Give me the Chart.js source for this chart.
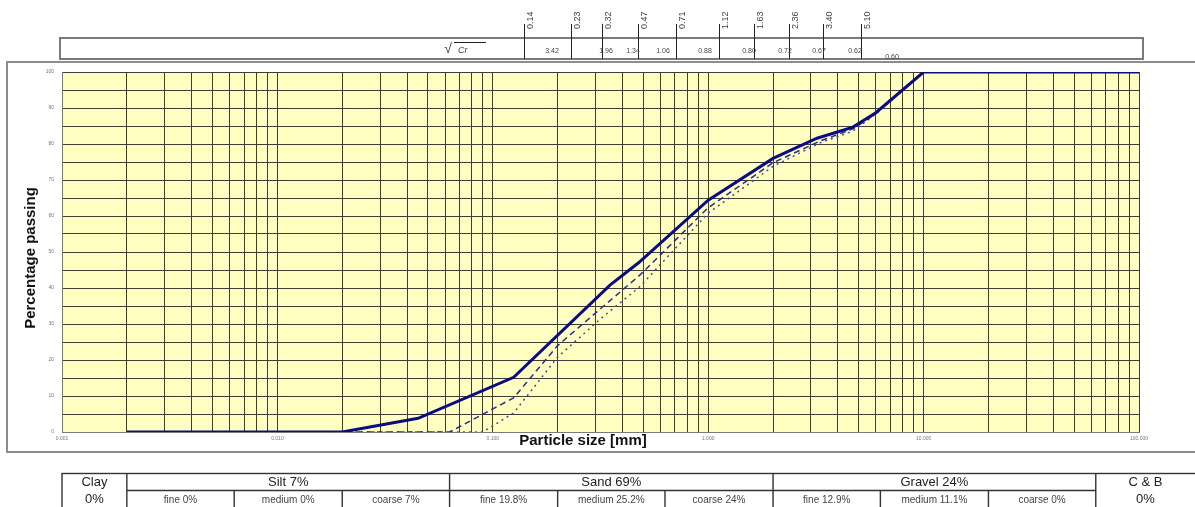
<!DOCTYPE html>
<html>
<head>
<meta charset="utf-8">
<script src="https://cdn.jsdelivr.net/npm/chart.js@4.4.1/dist/chart.umd.min.js"></script>
<style>
html, body { margin: 0; padding: 0; background: #fff; }
#wrap { position: relative; width: 1195px; height: 507px; overflow: hidden; }
</style>
</head>
<body>
<div id="wrap"><canvas id="grading" width="1195" height="507"></canvas></div>
<script>
// grading curves (size in mm, % passing)
var sizesA = [0.002, 0.02, 0.045, 0.125, 0.35, 0.475, 1.0, 2.0, 3.2, 4.7, 6.0, 10, 100];
var passA  = [0, 0, 3.8, 15.2, 40.8, 47, 64.4, 76, 81.6, 84.7, 88.7, 100, 100];

var sizesB = [0.002, 0.063, 0.125, 0.2, 0.32, 0.48, 1.0, 2.0, 3.3, 4.7, 6.0, 10, 100];
var passB  = [0, 0, 9.5, 24, 34.5, 43.5, 62.3, 74.8, 80.8, 84.2, 88.4, 100, 100];

var sizesC = [0.002, 0.09, 0.125, 0.2, 0.32, 0.48, 1.0, 2.0, 3.3, 4.7, 6.0, 10, 100];
var passC  = [0, 0, 5.3, 20.8, 31.7, 40.3, 60.8, 73.8, 80.3, 83.6, 88.3, 100, 100];

// axis labels
var xTickValues = [0.001, 0.01, 0.1, 1, 10, 100];
var xTickLabels = ['0.001', '0.010', '0.100', '1.000', '10.000', '100.000'];
var yTickLabels = ['0', '10', '20', '30', '40', '50', '60', '70', '80', '90', '100'];

// strip above the chart
var topSizes  = [0.14, 0.23, 0.32, 0.47, 0.71, 1.12, 1.63, 2.36, 3.40, 5.10];
var topLabels = ['0.14', '0.23', '0.32', '0.47', '0.71', '1.12', '1.63', '2.36', '3.40', '5.10'];
var crValues  = ['3.42', '1.96', '1.34', '1.06', '0.88', '0.80', '0.72', '0.67', '0.62', '0.60'];

// classification table below
var fractionBounds = [0.002, 0.0063, 0.02, 0.063, 0.2, 0.63, 2, 6.3, 20, 63];
var groupLabels = ['Silt 7%', 'Sand 69%', 'Gravel 24%'];
var subLabels = ['fine 0%', 'medium 0%', 'coarse 7%', 'fine 19.8%', 'medium 25.2%', 'coarse 24%', 'fine 12.9%', 'medium 11.1%', 'coarse 0%'];
var clayLabel = ['Clay', '0%'];
var cobbleLabel = ['C & B', '0%'];

var FONT = "'Liberation Sans', Arial, sans-serif";
Chart.defaults.font.family = FONT;

// grid lines at 1..9 of every decade
var gridValues = [];
for (var e = -3; e < 2; e++) {
	for (var m = 1; m < 10; m++) {
		gridValues.push(+(m * Math.pow(10, e)).toPrecision(3));
	}
}
gridValues.push(100);

function pairs(xs, ys) {
	return xs.map(function (v, i) { return {x: v, y: ys[i]}; });
}

// x positions of the Cr values inside the strip
var crX = [552, 606, 633, 663, 705, 749, 785, 819, 855, 892];

var sheetDecor = {
	id: 'sheetDecor',
	beforeDraw: function (chart) {
		var ctx = chart.ctx, a = chart.chartArea;
		ctx.save();
		ctx.fillStyle = '#ffffff';
		ctx.fillRect(0, 0, chart.width, chart.height);
		ctx.fillStyle = '#ffffc2';
		ctx.fillRect(a.left, a.top, a.right - a.left, a.bottom - a.top);
		ctx.restore();
	},
	afterDraw: function (chart) {
		var ctx = chart.ctx, a = chart.chartArea, xs = chart.scales.x;
		ctx.save();

		// outer frame of the graph
		ctx.strokeStyle = '#8c8c8c';
		ctx.lineWidth = 2;
		ctx.strokeRect(7, 62, 1200, 390);

		// strip with Cr values
		ctx.strokeStyle = '#7a7a7a';
		ctx.strokeRect(60, 38, 1083, 21);

		ctx.fillStyle = '#444';
		ctx.strokeStyle = '#222';
		ctx.lineWidth = 1;
		topSizes.forEach(function (s, i) {
			var px = Math.round(xs.getPixelForValue(s)) + 0.5;
			ctx.beginPath();
			ctx.moveTo(px, 24);
			ctx.lineTo(px, 59);
			ctx.stroke();
			ctx.save();
			ctx.translate(px + 6, 29);
			ctx.rotate(-Math.PI / 2);
			ctx.font = '9px ' + FONT;
			ctx.textAlign = 'left';
			ctx.textBaseline = 'middle';
			ctx.fillText(topLabels[i], 0, 0);
			ctx.restore();
		});

		ctx.font = '7px ' + FONT;
		ctx.textAlign = 'center';
		ctx.textBaseline = 'middle';
		crValues.forEach(function (v, i) {
			ctx.fillText(v, crX[i], i == crValues.length - 1 ? 57 : 51);
		});

		// sqrt(Cr) sign
		ctx.font = '14px ' + FONT;
		ctx.fillText('\u221A', 448, 49);
		ctx.font = 'italic 9px ' + FONT;
		ctx.textAlign = 'left';
		ctx.fillText('Cr', 458, 50);
		ctx.beginPath();
		ctx.moveTo(454, 42.5);
		ctx.lineTo(486, 42.5);
		ctx.stroke();

		// axis titles
		ctx.fillStyle = '#111';
		ctx.font = 'bold 15px ' + FONT;
		ctx.textAlign = 'center';
		ctx.fillText('Particle size [mm]', 583, 441);
		ctx.save();
		ctx.translate(31, 258);
		ctx.rotate(-Math.PI / 2);
		ctx.fillText('Percentage passing', 0, 0);
		ctx.restore();

		// classification table
		var bx = fractionBounds.map(function (b) { return xs.getPixelForValue(b); });
		var left = a.left, right = chart.width + 2, top = 473.5, mid = 490.5, bot = chart.height + 2;
		ctx.strokeStyle = '#333';
		ctx.lineWidth = 1.4;
		ctx.strokeRect(left, top, right - left, bot - top);
		ctx.beginPath();
		ctx.moveTo(bx[0], mid);
		ctx.lineTo(bx[9], mid);
		bx.forEach(function (b, i) {
			ctx.moveTo(b, i % 3 == 0 ? top : mid);
			ctx.lineTo(b, bot);
		});
		ctx.stroke();

		ctx.fillStyle = '#222';
		ctx.font = '13px ' + FONT;
		ctx.fillText(clayLabel[0], (left + bx[0]) / 2, 482);
		ctx.fillText(clayLabel[1], (left + bx[0]) / 2, 499);
		ctx.fillText(cobbleLabel[0], (bx[9] + 1195) / 2, 482);
		ctx.fillText(cobbleLabel[1], (bx[9] + 1195) / 2, 499);
		groupLabels.forEach(function (g, i) {
			ctx.fillText(g, (bx[i * 3] + bx[i * 3 + 3]) / 2, 482);
		});
		ctx.fillStyle = '#444';
		ctx.font = '10px ' + FONT;
		subLabels.forEach(function (s, i) {
			ctx.fillText(s, (bx[i] + bx[i + 1]) / 2, 500);
		});

		ctx.restore();
	}
};

var ctx = document.getElementById('grading').getContext('2d');
new Chart(ctx, {
	type: 'line',
	data: {
		datasets: [
			{data: pairs(sizesA, passA), borderColor: '#0b0b82', borderWidth: 3},
			{data: pairs(sizesB, passB), borderColor: '#2a2a92', borderWidth: 1.5, borderDash: [6, 4]},
			{data: pairs(sizesC, passC), borderColor: '#4646a6', borderWidth: 1.5, borderDash: [2, 4]}
		]
	},
	options: {
		responsive: false,
		animation: false,
		devicePixelRatio: 1,
		layout: {padding: {left: 0, top: 72, right: 56, bottom: 0}},
		elements: {point: {radius: 0}, line: {tension: 0, fill: false}},
		plugins: {legend: {display: false}, tooltip: {enabled: false}},
		scales: {
			x: {
				type: 'logarithmic',
				min: 0.001,
				max: 100,
				afterFit: function (s) { s.height = 75; },
				afterBuildTicks: function (s) {
					s.ticks = gridValues.map(function (v) { return {value: v}; });
				},
				grid: {color: '#3e3e32', lineWidth: 1, drawTicks: false},
				border: {color: '#7a7a7a', width: 1},
				ticks: {
					autoSkip: false,
					maxRotation: 0,
					padding: 4,
					color: '#777',
					font: {size: 5},
					callback: function (value) {
						for (var i = 0; i < xTickValues.length; i++) {
							if (Math.abs(value - xTickValues[i]) < xTickValues[i] * 1e-6) return xTickLabels[i];
						}
						return '';
					}
				}
			},
			y: {
				min: 0,
				max: 100,
				afterFit: function (s) { s.width = 62; },
				grid: {color: '#3e3e32', lineWidth: 1, drawTicks: false},
				border: {color: '#7a7a7a', width: 1},
				ticks: {
					stepSize: 5,
					padding: 8,
					color: '#777',
					font: {size: 5},
					callback: function (value) {
						return value % 10 == 0 ? yTickLabels[value / 10] : '';
					}
				}
			}
		}
	},
	plugins: [sheetDecor]
});
</script>
</body>
</html>
